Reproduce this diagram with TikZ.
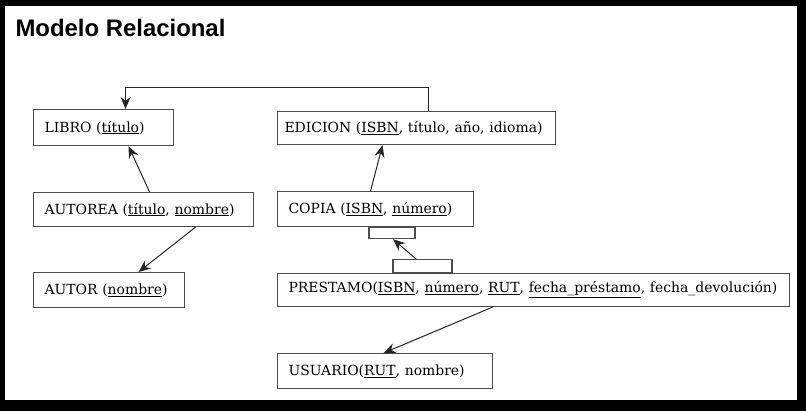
\documentclass[tikz,border=0pt]{standalone}
\usepackage{fontspec}
\usepackage{tikz}
\usetikzlibrary{arrows.meta}
\setmainfont{DejaVu Serif}
\newfontfamily\titlefont{Liberation Sans}
\newcommand{\pk}[1]{\underline{#1}}

\begin{document}
\begin{tikzpicture}[x=1bp,y=-1bp,
  rel/.style={draw=black!70,line width=1.1bp,anchor=north west,align=left,
    inner xsep=11bp,inner ysep=0pt,font=\fontsize{14}{16}\selectfont},
  tab/.style={draw=black!70,line width=1.1bp,inner sep=0pt},
  fk/.style={draw=black!85,line width=1bp,-{Stealth[length=12bp,width=10bp]}}]
\useasboundingbox (0,0) rectangle (806,411);
\fill[black] (0,0) rectangle (806,411);
\fill[white] (5,6) rectangle (797,400);
\node[anchor=base west,font=\titlefont\bfseries\fontsize{24}{28}\selectfont] (title) at (12,36) {Modelo Relacional};
% tablas
\node[rel,text width=118bp,minimum height=36bp] (libro) at (33,109) {LIBRO (\pk{título})};
\node[rel,text width=198bp,minimum height=34bp] (autorea) at (33,192) {AUTOREA (\pk{título}, \pk{nombre})};
\node[rel,text width=129bp,minimum height=35bp] (autor) at (33,272) {AUTOR (\pk{nombre})};
\node[rel,inner xsep=7bp,text width=264bp,minimum height=33bp] (edicion) at (277,111) {\mbox{EDICION (\pk{ISBN}, título, año, idioma)}};
\node[rel,text width=174bp,minimum height=35bp] (copia) at (277,191) {COPIA (\pk{ISBN}, \pk{número})};
\node[rel,text width=490bp,minimum height=33bp] (prestamo) at (277,273) {PRESTAMO(\pk{ISBN}, \pk{número}, \pk{RUT}, \pk{fecha\_préstamo}, fecha\_devolución)};
\node[rel,text width=193bp,minimum height=35bp] (usuario) at (277,353) {USUARIO(\pk{RUT}, nombre)};
\node[tab,anchor=north,minimum width=46bp,minimum height=11bp] (copiatab) at (copia.south -| 392,0) {};
\node[tab,anchor=south,minimum width=59bp,minimum height=13bp] (prestamotab) at (prestamo.north -| 422.5,0) {};
% claves foraneas
\draw[fk] ([xshift=12bp]edicion.north) -- ++(0,-24) -| ([xshift=22bp]libro.north);
\draw[fk] ([xshift=6bp]autorea.north) -- ([xshift=25bp]libro.south);
\draw[fk] ([xshift=52bp]autorea.south) -- ([xshift=29.5bp]autor.north);
\draw[fk] ([xshift=-5bp]copia.north) -- ([xshift=-34bp]edicion.south);
\draw[fk] ([xshift=-6.5bp]prestamotab.north) -- ([xshift=1bp]copiatab.south);
\draw[fk] ([xshift=-41bp]prestamo.south) -- ([xshift=-1.5bp]usuario.north);
\end{tikzpicture}
\end{document}
